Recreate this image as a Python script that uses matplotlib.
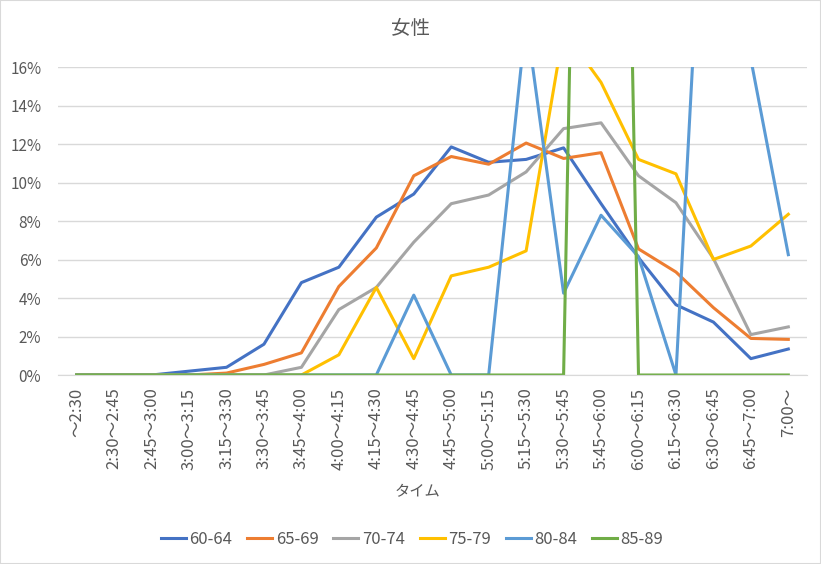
"""Line chart of finish-time distribution by age group (women)."""

import matplotlib

matplotlib.use("Agg")
import matplotlib.pyplot as plt
from matplotlib.patches import Rectangle
from matplotlib.ticker import FuncFormatter, MultipleLocator

plt.rcParams["font.family"] = ["Noto Sans CJK JP", "DejaVu Sans"]

TEXT = "#595959"
GRID = "#D9D9D9"

categories = [
    "～2:30", "2:30～2:45", "2:45～3:00", "3:00～3:15", "3:15～3:30",
    "3:30～3:45", "3:45～4:00", "4:00～4:15", "4:15～4:30", "4:30～4:45",
    "4:45～5:00", "5:00～5:15", "5:15～5:30", "5:30～5:45", "5:45～6:00",
    "6:00～6:15", "6:15～6:30", "6:30～6:45", "6:45～7:00", "7:00～",
]

# percent of runners per time bin
age_60_64 = [0, 0, 0, 0.2, 0.4, 1.6, 4.8, 5.6, 8.2, 9.4,
             11.85, 11.05, 11.2, 11.8, 8.9, 6.1, 3.65, 2.75, 0.85, 1.35]
age_65_69 = [0, 0, 0, 0, 0.1, 0.55, 1.15, 4.6, 6.6, 10.35,
             11.35, 10.95, 12.05, 11.25, 11.55, 6.55, 5.35, 3.5, 1.9, 1.85]
age_70_74 = [0, 0, 0, 0, 0, 0, 0.4, 3.4, 4.55, 6.9,
             8.9, 9.35, 10.55, 12.8, 13.1, 10.35, 8.95, 6.05, 2.1, 2.5]
age_75_79 = [0, 0, 0, 0, 0, 0, 0, 1.05, 4.55, 0.85,
             5.15, 5.6, 6.45, 17.9, 15.2, 11.2, 10.45, 6.0, 6.7, 8.35]
age_80_84 = [0, 0, 0, 0, 0, 0, 0, 0, 0, 4.15,
             0, 0, 18.5, 4.25, 8.3, 6.15, 0, 36.4, 16.4, 6.25]
age_85_89 = [0, 0, 0, 0, 0, 0, 0, 0, 0, 0,
             0, 0, 0, 0, 100, 0, 0, 0, 0, 0]

series = [
    ("60-64", age_60_64, "#4472C4"),
    ("65-69", age_65_69, "#ED7D31"),
    ("70-74", age_70_74, "#A5A5A5"),
    ("75-79", age_75_79, "#FFC000"),
    ("80-84", age_80_84, "#5B9BD5"),
    ("85-89", age_85_89, "#70AD47"),
]

fig = plt.figure(figsize=(8.21, 5.64), dpi=100)
fig.patches.append(Rectangle((0, 0), 1, 1, transform=fig.transFigure,
                             fill=False, edgecolor=GRID, linewidth=1.5))
ax = fig.add_axes([0.0706, 0.3351, 0.9124, 0.5461])

x = range(len(categories))
for name, values, color in series:
    ax.plot(x, [v / 100 for v in values], color=color, linewidth=2.2,
            label=name, solid_joinstyle="round")

ax.set_xlim(-0.5, len(categories) - 0.5)
ax.set_ylim(0, 0.16)
ax.yaxis.set_major_locator(MultipleLocator(0.02))
ax.yaxis.set_major_formatter(FuncFormatter(lambda v, _: f"{v * 100:.0f}%"))
ax.grid(axis="y", color=GRID, linewidth=1)
ax.set_axisbelow(True)
for side in ("left", "right", "top"):
    ax.spines[side].set_visible(False)
ax.spines["bottom"].set_color(GRID)

ax.set_xticks(list(x))
ax.set_xticklabels(categories, rotation=90, va="top", ha="center")
ax.tick_params(length=0, colors=TEXT)
ax.tick_params(axis="y", pad=12, labelsize=11)
ax.tick_params(axis="x", pad=9, labelsize=12)

fig.text(0.5, 0.95, "女性", color=TEXT, fontsize=14, ha="center", va="center")
fig.text(0.508, 0.128, "タイム", color=TEXT, fontsize=11, ha="center", va="center")

leg = fig.legend(loc="center", bbox_to_anchor=(0.502, 0.043), ncol=6,
                 frameon=False, fontsize=12, handlelength=1.5,
                 handletextpad=0.2, columnspacing=0.9)
for text in leg.get_texts():
    text.set_color(TEXT)

fig.savefig("out.png", dpi=100)
